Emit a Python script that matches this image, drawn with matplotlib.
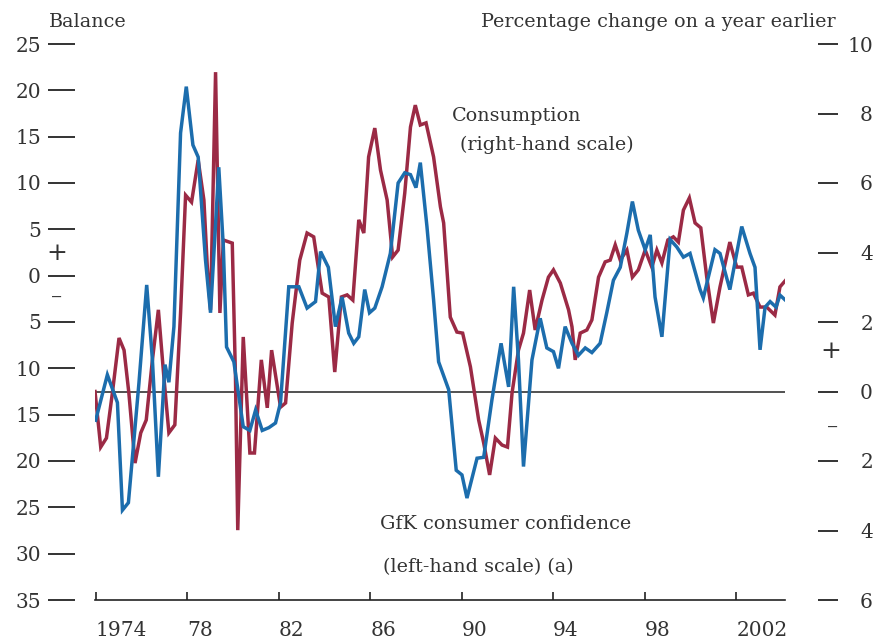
import matplotlib
matplotlib.use("Agg")
import matplotlib.pyplot as plt
import numpy as np

# ---- data ----
gfk_years = [1974.0, 1974.51, 1974.95, 1975.17, 1975.43, 1975.89, 1976.23, 1976.48, 1976.74, 1977.03,
             1977.20, 1977.42, 1977.71, 1977.96, 1978.25, 1978.48, 1978.80, 1979.02, 1979.38, 1979.58,
             1979.72, 1980.04, 1980.45, 1980.74, 1980.99, 1981.28, 1981.57, 1981.86, 1982.08, 1982.44,
             1982.88, 1983.24, 1983.61, 1983.83, 1984.17, 1984.48, 1984.77, 1985.06, 1985.28, 1985.50,
             1985.76, 1985.97, 1986.20, 1986.52, 1986.88, 1987.22, 1987.51, 1987.76, 1988.00, 1988.19,
             1988.48, 1988.77, 1988.99, 1989.43, 1989.76, 1990.01, 1990.23, 1990.67, 1990.96, 1991.32,
             1991.72, 1992.05, 1992.27, 1992.48, 1992.70, 1993.07, 1993.43, 1993.72, 1994.01, 1994.23,
             1994.52, 1994.82, 1995.10, 1995.40, 1995.69, 1996.05, 1996.34, 1996.63, 1996.93, 1997.22,
             1997.46, 1997.72, 1998.02, 1998.24, 1998.45, 1998.75, 1999.11, 1999.40, 1999.69, 1999.98,
             2000.42, 2000.56, 2001.07, 2001.29, 2001.72, 2002.24, 2002.60, 2002.82, 2003.04, 2003.26,
             2003.48, 2003.74, 2003.91, 2004.13]
gfk_balance = [-15.6, -10.7, -13.7, -25.3, -24.5, -11.6, -1.0, -9.1, -21.7, -9.6,
               -11.5, -5.5, 15.4, 20.4, 14.1, 12.8, 1.7, -4.0, 11.7, 3.1,
               -7.7, -9.3, -16.3, -16.7, -14.5, -16.7, -16.4, -15.9, -13.7, -1.2,
               -1.2, -3.5, -2.8, 2.6, 0.9, -5.5, -2.3, -6.2, -7.3, -6.6,
               -1.5, -4.0, -3.5, -1.2, 2.4, 10.0, 11.1, 10.9, 9.5, 12.2,
               5.3, -2.6, -9.3, -12.3, -21.0, -21.5, -24.0, -19.7, -19.6, -13.4,
               -7.3, -12.0, -1.2, -9.1, -20.6, -9.1, -4.6, -7.8, -8.2, -10.0,
               -5.5, -7.3, -8.6, -7.8, -8.3, -7.3, -4.0, -0.5, 0.9, 4.6,
               8.0, 4.9, 2.8, 4.4, -2.3, -6.6, 3.9, 3.1, 2.0, 2.4,
               -1.5, -2.4, 2.8, 2.4, -1.5, 5.3, 2.4, 0.9, -8.0, -3.4,
               -2.8, -3.4, -2.1, -2.6]

cons_years = [1973.97, 1974.22, 1974.47, 1974.73, 1975.02, 1975.24, 1975.45, 1975.72, 1975.97, 1976.21,
              1976.48, 1976.74, 1976.98, 1977.20, 1977.46, 1977.71, 1977.93, 1978.19, 1978.48, 1978.73,
              1978.88, 1979.02, 1979.24, 1979.43, 1979.58, 1979.97, 1980.11, 1980.21, 1980.45, 1980.74,
              1980.94, 1981.24, 1981.50, 1981.69, 1982.08, 1982.30, 1982.59, 1982.92, 1983.24, 1983.53,
              1983.90, 1984.19, 1984.45, 1984.74, 1984.99, 1985.24, 1985.50, 1985.72, 1985.93, 1986.20,
              1986.45, 1986.74, 1986.98, 1987.22, 1987.51, 1987.76, 1987.97, 1988.19, 1988.44, 1988.77,
              1989.07, 1989.21, 1989.50, 1989.79, 1990.04, 1990.38, 1990.74, 1990.96, 1991.22, 1991.47,
              1991.76, 1992.00, 1992.20, 1992.48, 1992.70, 1992.97, 1993.21, 1993.51, 1993.79, 1994.01,
              1994.31, 1994.67, 1994.82, 1994.96, 1995.18, 1995.47, 1995.69, 1995.98, 1996.27, 1996.49,
              1996.71, 1996.93, 1997.22, 1997.46, 1997.72, 1998.02, 1998.31, 1998.53, 1998.75, 1999.01,
              1999.25, 1999.47, 1999.69, 1999.95, 2000.20, 2000.45, 2000.71, 2001.00, 2001.29, 2001.72,
              2002.02, 2002.24, 2002.53, 2002.75, 2003.04, 2003.33, 2003.69, 2003.91, 2004.17]
cons_change = [0.0, -1.60, -1.34, -0.04, 1.54, 1.19, -0.04, -2.06, -1.19, -0.82,
               0.91, 2.35, 0.42, -1.19, -0.96, 2.26, 5.65, 5.45, 6.66, 5.51,
               3.58, 2.35, 9.19, 2.26, 4.36, 4.27, 0.42, -3.99, 1.57, -1.77,
               -1.77, 0.91, -0.47, 1.19, -0.45, -0.33, 1.97, 3.78, 4.56, 4.45,
               2.83, 2.72, 0.56, 2.72, 2.78, 2.63, 4.94, 4.56, 6.75, 7.58,
               6.37, 5.51, 3.87, 4.07, 5.71, 7.61, 8.24, 7.67, 7.73, 6.75,
               5.31, 4.85, 2.14, 1.71, 1.68, 0.71, -0.82, -1.48, -2.40, -1.34,
               -1.54, -1.60, -0.04, 1.19, 1.68, 2.92, 1.77, 2.63, 3.29, 3.50,
               3.12, 2.35, 1.86, 0.91, 1.68, 1.77, 2.06, 3.29, 3.73, 3.78,
               4.22, 3.78, 4.07, 3.29, 3.50, 4.07, 3.58, 4.07, 3.70, 4.36,
               4.45, 4.30, 5.22, 5.57, 4.85, 4.71, 3.29, 1.97, 3.01, 4.30,
               3.58, 3.58, 2.78, 2.83, 2.43, 2.43, 2.20, 3.01, 3.21]

x_ticks = [1974, 1978, 1982, 1986, 1990, 1994, 1998, 2002]
x_labels = ["1974", "78", "82", "86", "90", "94", "98", "2002"]
left_ticks = [25, 20, 15, 10, 5, 0, -5, -10, -15, -20, -25, -30, -35]
right_ticks = [10, 8, 6, 4, 2, 0, -2, -4, -6]

# ---- style ----
FONT = "DejaVu Serif"
TXT = "#333333"
BLUE = "#1c6dad"
RED = "#9b2a45"
plt.rcParams["font.family"] = FONT

W, H = 878, 643
fig = plt.figure(figsize=(W / 100, H / 100), dpi=100)
ax = fig.add_axes([95 / W, 43 / H, 690 / W, 556 / H])
ax2 = ax.twinx()
ax.set_zorder(2)
ax.patch.set_visible(False)

px = 72 / 100  # points per pixel

ax.set_xlim(1974.0 - 0.03, 1974.0 + 690 / 22.9)
ax.set_ylim(-35, 25)
ax2.set_ylim(-6, 10)

# zero line of the right-hand scale
ax2.axhline(0, color="#222222", lw=1.1, zorder=1)

ax2.plot(cons_years, cons_change, color=RED, lw=2.5, solid_joinstyle="miter", zorder=3)
ax.plot(gfk_years, gfk_balance, color=BLUE, lw=2.5, solid_joinstyle="miter", zorder=3)

for a in (ax, ax2):
    for s in ("top", "left", "right", "bottom"):
        a.spines[s].set_visible(False)
ax.spines["bottom"].set_visible(True)
ax.spines["bottom"].set_color("#222222")
ax.spines["bottom"].set_linewidth(1.2)

# left axis ticks
ax.spines["left"].set_position(("outward", 20 * px))
ax.set_yticks(left_ticks)
ax.set_yticklabels([str(abs(v)) for v in left_ticks])
ax.tick_params(axis="y", direction="out", length=27 * px, width=1.4, color=TXT,
               pad=7 * px, labelsize=14.5, labelcolor=TXT)

# right axis ticks
ax2.spines["right"].set_position(("outward", 33 * px))
ax2.set_yticks(right_ticks)
ax2.set_yticklabels([str(abs(v)) for v in right_ticks])
ax2.tick_params(axis="y", direction="out", length=20 * px, width=1.4, color=TXT,
                pad=35 * px, labelsize=14.5, labelcolor=TXT)
for lab in ax2.get_yticklabels():
    lab.set_ha("right")

# bottom ticks
ax.set_xticks(x_ticks)
ax.set_xticklabels(x_labels)
ax.tick_params(axis="x", direction="in", length=8 * px, width=1.2, color="#222222",
               pad=21 * px, labelsize=14.5, labelcolor=TXT)
for lab in ax.get_xticklabels():
    lab.set_ha("left")

# texts
def ftxt(x, y, s, size=13.8, **kw):
    fig.text(x / W, 1 - y / H, s, color=TXT, fontsize=size, **kw)

ftxt(49, 22, "Balance", ha="left", va="center")
ftxt(836, 22, "Percentage change on a year earlier", ha="right", va="center")
ftxt(452, 116, "Consumption", ha="left", va="center")
ftxt(460, 145, "(right-hand scale)", ha="left", va="center")
ftxt(380, 524, "GfK consumer confidence", ha="left", va="center")
ftxt(383, 567, "(left-hand scale) (a)", ha="left", va="center")
ftxt(57, 253, "+", size=18, ha="center", va="center")
ftxt(57, 298, "\u2013", size=16, ha="center", va="center")
ftxt(831, 352, "+", size=18, ha="center", va="center")
ftxt(833, 428, "\u2013", size=16, ha="center", va="center")

fig.savefig("out.png", dpi=100)
